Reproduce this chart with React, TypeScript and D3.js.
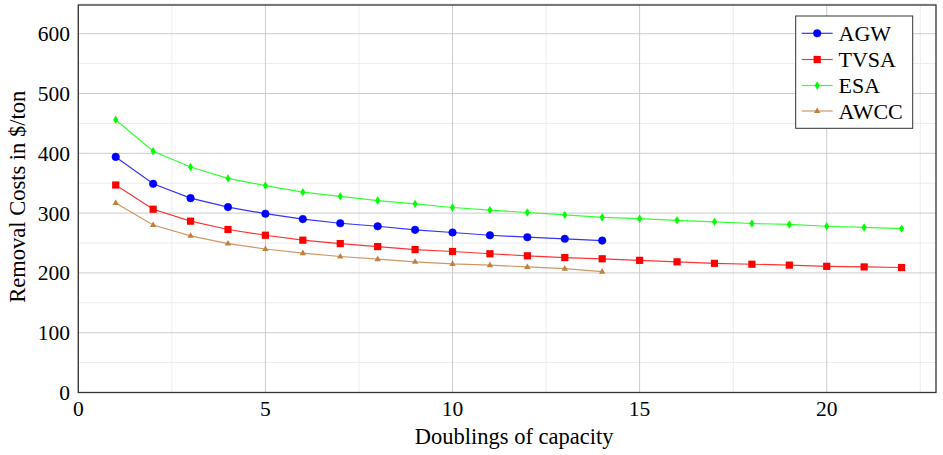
import React from "react";
import * as d3 from "d3";

const xAGW = [1, 2, 3, 4, 5, 6, 7, 8, 9, 10, 11, 12, 13, 14];
const agw = [394, 349, 325, 310, 299, 290, 283, 278, 272, 267.6, 263, 259.7, 257, 254];
const xTVSA = [1, 2, 3, 4, 5, 6, 7, 8, 9, 10, 11, 12, 13, 14, 15, 16, 17, 18, 19, 20, 21, 22];
const tvsa = [347, 306.5, 286.5, 272.6, 263, 254.7, 249, 244, 239, 235.8, 232, 228.6, 225.7, 223.6, 221, 218.5, 216, 214.5, 213, 211, 210, 209];
const xESA = [1, 2, 3, 4, 5, 6, 7, 8, 9, 10, 11, 12, 13, 14, 15, 16, 17, 18, 19, 20, 21, 22];
const esa = [456, 403.5, 377, 358, 346, 335, 328, 321, 315.5, 309.4, 305, 301, 297, 293, 290.6, 288, 285.4, 282.6, 281, 278, 276, 274];
const xAWCC = [1, 2, 3, 4, 5, 6, 7, 8, 9, 10, 11, 12, 13, 14];
const awcc = [317, 280, 262, 249, 240, 233, 227.4, 223, 218.5, 215, 213, 210, 207, 202];

const seriesNames = ["AGW", "TVSA", "ESA", "AWCC"];
const xTicks = [0, 5, 10, 15, 20];
const yTicks = [0, 100, 200, 300, 400, 500, 600];
const xMinor = [2.5, 7.5, 12.5, 17.5, 22.5];
const yMinor = [50, 150, 250, 350, 450, 550, 650];
const xLabel = "Doublings of capacity";
const yLabel = "Removal Costs in $/ton";

const W = 943;
const H = 455;
const L = 78.3;
const R = 936;
const T = 5;
const B = 392.5;
const FONT = "'Liberation Serif', 'Times New Roman', serif";

type Shape = "circle" | "square" | "diamond" | "triangle";

const series: { name: string; xs: number[]; ys: number[]; color: string; shape: Shape }[] = [
  { name: seriesNames[0], xs: xAGW, ys: agw, color: "#0000ff", shape: "circle" },
  { name: seriesNames[1], xs: xTVSA, ys: tvsa, color: "#ff0000", shape: "square" },
  { name: seriesNames[2], xs: xESA, ys: esa, color: "#00ff00", shape: "diamond" },
  { name: seriesNames[3], xs: xAWCC, ys: awcc, color: "#bf8040", shape: "triangle" },
];

function Marker({ x, y, shape, color }: { x: number; y: number; shape: Shape; color: string }) {
  if (shape === "circle") return <circle cx={x} cy={y} r={3.8} fill={color} stroke={color} strokeWidth={0.5} />;
  if (shape === "square") return <rect x={x - 3.6} y={y - 3.6} width={7.2} height={7.2} fill={color} />;
  if (shape === "diamond")
    return <path d={`M${x},${y - 4.2}L${x + 2.6},${y}L${x},${y + 4.2}L${x - 2.6},${y}Z`} fill={color} />;
  return <path d={`M${x},${y - 3.6}L${x + 3.2},${y + 2}L${x - 3.2},${y + 2}Z`} fill={color} />;
}

export default function App() {
  const x = d3.scaleLinear().domain([0, 22.92]).range([L, R]);
  const y = d3.scaleLinear().domain([0, 648]).range([B, T]);
  const line = d3
    .line<[number, number]>()
    .x((d) => x(d[0]))
    .y((d) => y(d[1]));

  const legX = 795.7;
  const legY = 16;
  const legW = 117;
  const legH = 112.3;
  const rowY = [33.3, 59.5, 85.5, 111];

  return (
    <svg
      width={W}
      height={H}
      style={{ position: "absolute", left: 0, top: 0, background: "#fff" }}
      fontFamily={FONT}
    >
      <rect x={0} y={0} width={W} height={H} fill="#fff" />
      {xMinor.map((v) => (
        <line key={"xm" + v} x1={x(v)} x2={x(v)} y1={T} y2={B} stroke="#ececec" strokeWidth={1} />
      ))}
      {yMinor.map((v) => (
        <line key={"ym" + v} x1={L} x2={R} y1={y(v)} y2={y(v)} stroke="#ececec" strokeWidth={1} />
      ))}
      {xTicks.map((v) => (
        <line key={"xg" + v} x1={x(v)} x2={x(v)} y1={T} y2={B} stroke="#cccccc" strokeWidth={1} />
      ))}
      {yTicks.map((v) => (
        <line key={"yg" + v} x1={L} x2={R} y1={y(v)} y2={y(v)} stroke="#cccccc" strokeWidth={1} />
      ))}
      {series.map((s) => {
        const pts = s.xs.map((xv, i) => [xv, s.ys[i]] as [number, number]);
        return (
          <g key={s.name}>
            <path d={line(pts) || ""} fill="none" stroke={s.color} strokeWidth={1.2} strokeOpacity={0.8} />
            {pts.map((p, i) => (
              <Marker key={i} x={x(p[0])} y={y(p[1])} shape={s.shape} color={s.color} />
            ))}
          </g>
        );
      })}
      <rect x={L} y={T} width={R - L} height={B - T} fill="none" stroke="#333" strokeWidth={1.3} />
      {xTicks.map((v) => (
        <text key={"xt" + v} x={x(v)} y={415.5} textAnchor="middle" fontSize={21.5} fill="#000">
          {v}
        </text>
      ))}
      {yTicks.map((v) => (
        <text key={"yt" + v} x={70} y={y(v) + 7.5} textAnchor="end" fontSize={21.5} fill="#000">
          {v}
        </text>
      ))}
      <text x={(L + R) / 2 + 7} y={443.5} textAnchor="middle" fontSize={22.5} fill="#000">
        {xLabel}
      </text>
      <text
        transform={`translate(25, ${(T + B) / 2 - 2}) rotate(-90)`}
        textAnchor="middle"
        fontSize={22.5}
        fill="#000"
      >
        {yLabel}
      </text>
      <rect x={legX} y={legY} width={legW} height={legH} fill="#fff" stroke="#333" strokeWidth={1} />
      {series.map((s, i) => (
        <g key={"lg" + s.name}>
          <line x1={801.7} x2={832.7} y1={rowY[i]} y2={rowY[i]} stroke={s.color} strokeWidth={1.2} strokeOpacity={0.8} />
          <Marker x={817.2} y={rowY[i]} shape={s.shape} color={s.color} />
          <text x={838.5} y={rowY[i] + 7.5} fontSize={22} fill="#000">
            {s.name}
          </text>
        </g>
      ))}
    </svg>
  );
}
